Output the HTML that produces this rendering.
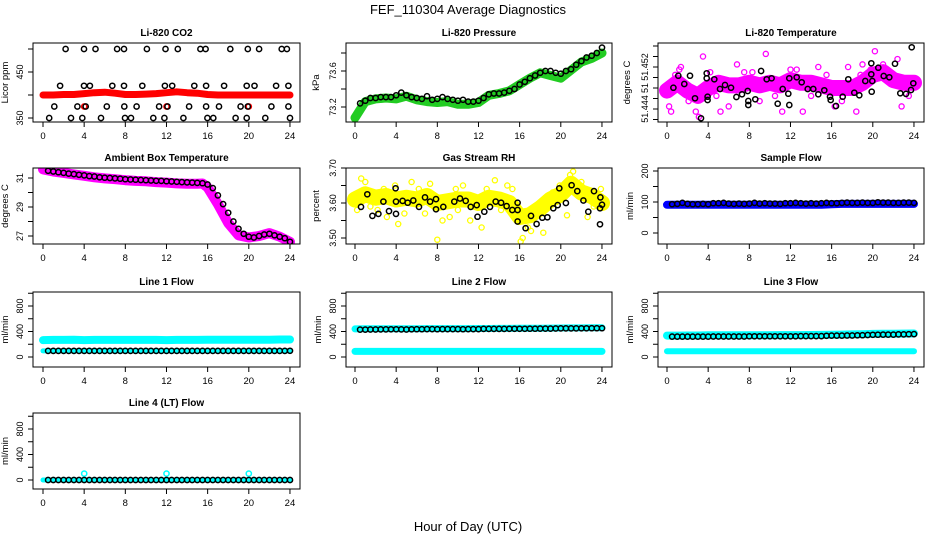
<!DOCTYPE html>
<html><head><meta charset="utf-8"><style>
html,body{margin:0;padding:0;background:#fff}
svg{display:block}
text{font-family:"Liberation Sans",Arial,sans-serif}
</style></head><body>
<svg id="chart" width="936" height="540" viewBox="0 0 936 540" xmlns="http://www.w3.org/2000/svg">
<rect width="936" height="540" fill="#fff"/>
<text x="468" y="14" text-anchor="middle" font-size="13">FEF_110304  Average Diagnostics</text>
<text x="468" y="531" text-anchor="middle" font-size="13">Hour of Day (UTC)</text>
</svg>
<script>
// ---------- data ----------
const xTicks=[0,4,8,12,16,20,24];
const halfHours=[0.5,1,1.5,2,2.5,3,3.5,4,4.5,5,5.5,6,6.5,7,7.5,8,8.5,9,9.5,10,10.5,11,11.5,12,12.5,13,13.5,14,14.5,15,15.5,16,16.5,17,17.5,18,18.5,19,19.5,20,20.5,21,21.5,22,22.5,23,23.5,24];
const hours=[0,1,2,3,4,5,6,7,8,9,10,11,12,13,14,15,16,17,18,19,20,21,22,23,24];

// CO2
const co2BandV=[400,400,401,401,403,405,406,404,401,401,402,403,405,407,405,404,401,400,400,400,400,400,400,400,400];
const co2RedT=[4,12,20];
const co2RedV=[375,375,375];
const co2BlackT=[2.2,3.98,5.1,7.2,7.87,10.1,11.9,13.1,15.3,15.8,18.2,19.9,21.0,23.2,23.7,
1.66,3.98,4.56,6.73,7.87,9.65,11.85,12.56,14.7,15.85,17.6,19.8,20.55,22.65,23.85,
1.1,3.34,4.15,6.2,7.9,9.1,11.28,12.1,14.2,15.85,17.1,19.2,19.9,22.2,23.85,
0.6,2.72,3.82,5.64,7.97,8.55,10.72,11.8,13.64,15.98,16.55,18.72,19.8,21.6,24];
const co2BlackV=[500,500,500,500,500,500,500,500,500,500,500,500,500,500,500,
420,420,420,420,420,420,420,420,420,420,420,420,420,420,420,
375,375,375,375,375,375,375,375,375,375,375,375,375,375,375,
350,350,350,350,350,350,350,350,350,350,350,350,350,350,350];

// Pressure
const presBandV=[73.08,73.26,73.29,73.3,73.29,73.32,73.28,73.26,73.25,73.26,73.23,73.23,73.25,73.33,73.35,73.38,73.45,73.52,73.58,73.55,73.52,73.61,73.7,73.74,73.8];
const presBlackV=[73.24,73.27,73.3,73.3,73.31,73.31,73.31,73.33,73.36,73.33,73.31,73.3,73.29,73.32,73.28,73.29,73.31,73.29,73.28,73.27,73.28,73.26,73.26,73.27,73.3,73.34,73.35,73.35,73.36,73.38,73.4,73.45,73.48,73.52,73.55,73.58,73.6,73.6,73.58,73.57,73.6,73.62,73.67,73.71,73.75,73.77,73.8,73.86];

// Li-820 temperature
const tempBandV=[51.4475,51.449,51.4475,51.4465,51.448,51.449,51.4485,51.4485,51.449,51.4485,51.449,51.4485,51.4495,51.449,51.449,51.4485,51.448,51.448,51.448,51.449,51.4505,51.451,51.4495,51.449,51.449];
const tempPinkT=[0.1,0.2,0.4,1.2,1.35,3.5,4.2,5.2,6.8,9.6,11.2,12.6,13.2,14.7,17.6,18.4,20.2,22.4,22.8,2.8,19,19.8,21.5,3.1,10.5,15.5,8.3,16.3,6,2.1,0.8,4.8,7.5,9,12,14,17,18.8,21,23.5];
const tempPinkV=[51.448,51.4445,51.4435,51.4515,51.452,51.454,51.451,51.4435,51.4525,51.4545,51.4435,51.4515,51.4435,51.452,51.452,51.4435,51.455,51.4535,51.4445,51.4435,51.4525,51.4515,51.4505,51.4425,51.4465,51.4505,51.451,51.4445,51.4445,51.4455,51.4505,51.4465,51.451,51.4455,51.4515,51.4465,51.4455,51.4505,51.4525,51.4465];
const tempBlackT=[0.62,1.1,1.68,2.24,2.72,3.86,3.86,3.95,3.95,4.6,5.15,5.64,6.22,6.74,7.29,7.84,7.9,7.9,8.58,9.14,9.69,10.17,10.76,11.24,11.79,11.89,11.89,12.6,13.09,13.67,14.22,14.7,15.29,15.84,15.91,16.42,17.07,17.62,18.2,18.69,19.27,19.85,19.89,19.85,19.95,20.53,21.06,21.6,22.16,22.67,23.23,23.71,23.94,23.78,3.3];
const tempBlackV=[51.44806,51.45034,51.44876,51.45034,51.44604,51.4508,51.44985,51.44634,51.44571,51.44966,51.44781,51.44857,51.44806,51.44629,51.4468,51.44743,51.44552,51.44476,51.44585,51.45124,51.44966,51.44985,51.44501,51.44781,51.44692,51.44476,51.44985,51.45003,51.44908,51.44781,51.44781,51.4468,51.44756,51.44634,51.44571,51.44457,51.44634,51.44966,51.4471,51.44661,51.44933,51.4527,51.4473,51.45061,51.44933,51.45187,51.45029,51.45003,51.45263,51.44699,51.44687,51.44762,51.4489,51.45575,51.44223];

// Ambient box temperature
const boxBandT=[0,1,2,3,4,5,6,7,8,9,10,11,12,13,14,15,15.5,16,17,18,19,20,21,22,23,24];
const boxBandV=[31.6,31.45,31.35,31.25,31.15,31.05,30.97,30.92,30.85,30.8,30.77,30.72,30.68,30.63,30.6,30.6,30.62,30.35,29.2,27.9,27.05,26.9,27.0,27.2,26.95,26.6];
const boxBlackV=[31.5,31.45,31.4,31.35,31.3,31.27,31.22,31.18,31.13,31.1,31.05,31.02,31.0,30.97,30.95,30.92,30.9,30.88,30.86,30.85,30.83,30.81,30.8,30.78,30.76,30.74,30.72,30.7,30.68,30.66,30.64,30.55,30.3,29.8,29.2,28.6,28.0,27.5,27.15,26.95,26.9,27.0,27.1,27.15,27.05,26.95,26.85,26.6];

// Gas stream RH
const rhBandV=[3.61,3.625,3.615,3.62,3.61,3.615,3.61,3.62,3.6,3.605,3.61,3.61,3.6,3.615,3.61,3.6,3.56,3.565,3.585,3.61,3.625,3.655,3.63,3.62,3.6];
const rhYellowT=[0.6,1,4.2,3.9,8,8.5,9.2,11.2,12.3,13.6,5.5,7.3,16.1,16.3,17.1,18.3,20.6,21.2,20.9,23.9,2.2,10.5,14.8,19.9,6.8,9.8,3.1,22.6,0.2,1.5,2.8,4.8,6.2,10,12.8,14.2,15.3,16.8,17.8,19.2,22,23.2];
const rhYellowV=[3.67,3.66,3.54,3.65,3.495,3.55,3.56,3.55,3.53,3.665,3.66,3.655,3.49,3.5,3.52,3.515,3.565,3.69,3.68,3.64,3.58,3.65,3.65,3.65,3.57,3.64,3.56,3.56,3.58,3.59,3.64,3.57,3.64,3.58,3.64,3.58,3.64,3.53,3.57,3.63,3.66,3.59];
const rhBlackT=[0.58,1.2,1.69,2.27,2.76,3.3,3.98,3.95,3.98,4.63,5.12,5.67,6.22,6.8,7.3,7.87,7.87,8.58,9.65,10.2,10.76,11.24,11.83,11.9,12.57,13.12,13.67,14.2,14.73,15.29,15.8,15.8,15.8,16.58,17.1,17.65,18.2,18.7,19.27,19.7,19.85,20.5,21.05,21.6,22.2,22.67,23.23,23.81,23.85,23.81,24];
const rhBlackV=[3.589,3.625,3.563,3.569,3.604,3.577,3.569,3.642,3.604,3.606,3.601,3.607,3.589,3.616,3.604,3.611,3.582,3.589,3.604,3.613,3.606,3.589,3.594,3.561,3.575,3.589,3.604,3.601,3.591,3.58,3.58,3.601,3.547,3.528,3.563,3.54,3.558,3.559,3.585,3.594,3.642,3.6,3.651,3.634,3.607,3.575,3.634,3.585,3.616,3.539,3.595];

// Sample flow
const sampleBandV=[91,91,91,91,91,91,91,91,91,91,91,91,91,91,91,91,93,94,94,94,94,94,94,94,94];
const sampleBlackV=[93,94,97,94,93,93,94,93,96,96,97,95,94,95,94,95,97,95,96,95,95,94,96,96,97,96,95,96,95,96,97,96,96,97,98,97,97,98,97,97,99,98,98,97,97,98,98,97];

// Line flows
const line1UpperV=[265,268,268,270,265,268,268,268,268,268,268,268,265,268,268,268,270,270,270,272,270,272,272,275,275];
const line1LowerV=[95,95,95,95,95,95,95,95,95,95,95,95,95,95,95,95,95,95,95,95,95,95,95,95,95];
const line1BlackV=[95,95,95,95,95,95,95,95,95,95,95,95,95,95,95,95,95,95,95,95,95,95,95,95,95,95,95,95,95,95,95,95,95,95,95,95,95,95,95,95,95,95,95,95,95,95,95,97];
const line2UpperV=[440,442,442,443,444,444,444,445,445,445,446,446,447,447,448,448,450,452,452,453,455,456,457,458,458];
const line2LowerV=[88,88,88,88,88,88,88,88,88,88,88,88,88,88,88,88,88,88,88,88,88,88,88,88,88];
const line2BlackV=[430,430,432,432,433,433,435,435,433,432,435,436,436,437,437,436,438,438,437,437,436,437,438,438,440,440,440,441,441,442,442,443,443,444,444,445,446,446,447,448,448,449,449,450,450,451,452,452];
const line3UpperV=[335,336,338,338,340,340,340,341,341,342,342,343,343,344,345,346,348,352,355,358,362,364,366,367,368];
const line3LowerV=[90,90,90,90,90,90,90,90,90,90,90,90,90,90,90,90,90,90,90,90,90,90,90,90,90];
const line3BlackV=[320,320,320,320,320,320,320,320,322,322,322,322,322,322,322,325,325,325,325,325,325,325,325,325,325,328,328,328,328,328,332,335,335,335,338,338,340,342,345,348,350,352,352,352,355,355,358,360];
const line4CyanV=[0,0,0,0,0,0,0,0,0,0,0,0,0,0,0,0,0,0,0,0,0,0,0,0,0];
const line4SpikeT=[4,12,20];
const line4SpikeV=[100,100,100];
const line4BlackV=[0,0,0,0,0,0,0,0,0,0,0,0,0,0,0,0,0,0,0,0,0,0,0,0,0,0,0,0,0,0,0,0,0,0,0,0,0,0,0,0,0,0,0,0,0,0,0,0];

// ---------- drawing ----------
const NS='http://www.w3.org/2000/svg';
const svg=document.getElementById('chart');
function mk(tag,attrs,parent){const e=document.createElementNS(NS,tag);for(const k in attrs)e.setAttribute(k,attrs[k]);(parent||svg).appendChild(e);return e;}

function makePanel(p){
  const g=mk('g',{});
  
  
  const xs=t=>p.x0+t*10.29;
  const ys=v=>p.ya+(v-p.va)*(p.yb-p.ya)/(p.vb-p.va);
  p.xs=xs;p.ys=ys;p.g=g;
  const ti=mk('text',{x:(p.bx0+p.bx1)/2,y:p.by0-7,'text-anchor':'middle','font-size':'10','font-weight':'bold'},g);
  ti.textContent=p.title;
  
  
  const xa=mk('g',{},g);
  
  
  mk('line',{x1:xs(xTicks[0]),x2:xs(xTicks[xTicks.length-1]),y1:p.by1,y2:p.by1,stroke:'#000','stroke-width':1},xa);
  xTicks.forEach(t=>{
    mk('line',{x1:xs(t),x2:xs(t),y1:p.by1,y2:p.by1+5,stroke:'#000','stroke-width':1},xa);
    const tx=mk('text',{x:xs(t),y:p.by1+17,'text-anchor':'middle','font-size':'9.5'},xa);
    tx.textContent=t;
    
    
  });
  const ya=mk('g',{},g);
  
  
  p.yticks.forEach((v,i)=>{
    const y=ys(v);
    mk('line',{x1:p.bx0-5,x2:p.bx0,y1:y,y2:y,stroke:'#000','stroke-width':1},ya);
    if(p.ylabels[i]!==''){
      const tx=mk('text',{x:p.bx0-10,y:y,'text-anchor':'middle','font-size':'9',transform:`rotate(-90 ${p.bx0-10} ${y})`},ya);
      tx.textContent=p.ylabels[i];
      
      
    }
  });
  const yt=mk('text',{x:p.bx0-p.ytOff,y:(p.by0+p.by1)/2,'text-anchor':'middle','font-size':'9.5',transform:`rotate(-90 ${p.bx0-p.ytOff} ${(p.by0+p.by1)/2})`},g);
  yt.textContent=p.ylab;
  
  
  const cid='clip'+p.name;
  const cp=mk('clipPath',{id:cid},g);
  mk('rect',{x:p.bx0,y:p.by0,width:p.bx1-p.bx0,height:p.by1-p.by0},cp);
  p.plot=mk('g',{'clip-path':`url(#${cid})`},g);
  
  
  const bx=mk('rect',{x:p.bx0,y:p.by0,width:p.bx1-p.bx0,height:p.by1-p.by0,fill:'none',stroke:'#000','stroke-width':1},g);
  
  
  return p;
}
function band(p,T,V,color,w,name){
  let d='';
  T.forEach((t,i)=>{d+=(i?'L':'M')+p.xs(t).toFixed(1)+' '+p.ys(V[i]).toFixed(1);});
  const path=mk('path',{d:d,fill:'none',stroke:color,'stroke-width':w,'stroke-linejoin':'round','stroke-linecap':'round'},p.plot);
  
  
}
function pts(p,T,V,color,sw,name){
  const g=mk('g',{},p.plot);
  
  
  T.forEach((t,i)=>{
    const c=mk('circle',{cx:p.xs(t).toFixed(1),cy:p.ys(V[i]).toFixed(1),r:2.6,fill:'none',stroke:color,'stroke-width':sw},g);
    
    
  });
}

const C1={bx0:33,bx1:300,x0:43}, C2={bx0:346,bx1:612,x0:355}, C3={bx0:658,bx1:924,x0:667};
const R1={by0:43,by1:122},R2={by0:168,by1:244},R3={by0:292,by1:367},R4={by0:413,by1:489};

const pCO2=makePanel(Object.assign({name:'co2-panel',title:'Li-820 CO2',ylab:'Licor ppm',ytOff:25,va:350,ya:118,vb:450,yb:72,yticks:[350,400,450,500],ylabels:['350','','450','']},C1,R1));
band(pCO2,hours,co2BandV,'#ff0000',7,'co2-red-band');
pts(pCO2,co2RedT,co2RedV,'#ff0000',1.5,'co2-red-points');
pts(pCO2,co2BlackT,co2BlackV,'#000',1.5,'co2-black-points');

const pP=makePanel(Object.assign({name:'pressure-panel',title:'Li-820 Pressure',ylab:'kPa',ytOff:27,va:73.2,ya:107,vb:73.6,yb:71,yticks:[73.2,73.4,73.6,73.8],ylabels:['73.2','','73.6','']},C2,R1));
band(pP,hours,presBandV,'#22cc22',9,'pressure-green-band');
pts(pP,halfHours,presBlackV,'#000',1.5,'pressure-black-points');

const pT=makePanel(Object.assign({name:'li820-temperature-panel',title:'Li-820 Temperature',ylab:'degrees C',ytOff:28,va:51.448,ya:88,vb:51.452,yb:67,yticks:[51.442,51.444,51.446,51.448,51.450,51.452,51.454,51.456],ylabels:['','51.444','','51','','51.452','','']},C3,R1));
band(pT,hours,tempBandV,'#ff00ff',16,'temperature-magenta-band');
pts(pT,tempPinkT,tempPinkV,'#ff00ff',1.3,'temperature-magenta-points');
pts(pT,tempBlackT,tempBlackV,'#000',1.5,'temperature-black-points');

const pB=makePanel(Object.assign({name:'box-temperature-panel',title:'Ambient Box Temperature',ylab:'degrees C',ytOff:25,va:27,ya:236,vb:31,yb:178,yticks:[27,28,29,30,31],ylabels:['27','','29','','31']},C1,R2));
band(pB,boxBandT,boxBandV,'#ff00ff',10,'box-temp-magenta-band');
pts(pB,halfHours,boxBlackV,'#000',1.5,'box-temp-black-points');

const pR=makePanel(Object.assign({name:'rh-panel',title:'Gas Stream RH',ylab:'percent',ytOff:27,va:3.6,ya:203,vb:3.7,yb:168,yticks:[3.5,3.55,3.6,3.65,3.7],ylabels:['3.50','','3.60','','3.70']},C2,R2));
band(pR,hours,rhBandV,'#ffff00',16,'rh-yellow-band');
pts(pR,rhYellowT,rhYellowV,'#ffff00',1.3,'rh-yellow-points');
pts(pR,rhBlackT,rhBlackV,'#000',1.5,'rh-black-points');

const pS=makePanel(Object.assign({name:'sample-flow-panel',title:'Sample Flow',ylab:'ml/min',ytOff:25,va:0,ya:233,vb:100,yb:202,yticks:[0,50,100,150,200],ylabels:['0','','100','','200']},C3,R2));
band(pS,hours,sampleBandV,'#0000ff',8,'sample-blue-band');
pts(pS,halfHours,sampleBlackV,'#000',1.5,'sample-black-points');

const flowTicks=[0,200,400,600,800,1000], flowLabels=['0','','400','','800',''];
const pL1=makePanel(Object.assign({name:'line1-flow-panel',title:'Line 1 Flow',ylab:'ml/min',ytOff:25,va:0,ya:357,vb:400,yb:331.5,yticks:flowTicks,ylabels:flowLabels},C1,R3));
band(pL1,hours,line1UpperV,'#00ffff',8,'line1-upper-cyan-band');
band(pL1,hours,line1LowerV,'#00ffff',5,'line1-lower-cyan-band');
pts(pL1,halfHours,line1BlackV,'#000',1.5,'line1-black-points');

const pL2=makePanel(Object.assign({name:'line2-flow-panel',title:'Line 2 Flow',ylab:'ml/min',ytOff:25,va:0,ya:357,vb:400,yb:331.5,yticks:flowTicks,ylabels:flowLabels},C2,R3));
band(pL2,hours,line2UpperV,'#00ffff',7,'line2-upper-cyan-band');
band(pL2,hours,line2LowerV,'#00ffff',7,'line2-lower-cyan-band');
pts(pL2,halfHours,line2BlackV,'#000',1.5,'line2-black-points');

const pL3=makePanel(Object.assign({name:'line3-flow-panel',title:'Line 3 Flow',ylab:'ml/min',ytOff:25,va:0,ya:357,vb:400,yb:331.5,yticks:flowTicks,ylabels:flowLabels},C3,R3));
band(pL3,hours,line3UpperV,'#00ffff',8,'line3-upper-cyan-band');
band(pL3,hours,line3LowerV,'#00ffff',6,'line3-lower-cyan-band');
pts(pL3,halfHours,line3BlackV,'#000',1.5,'line3-black-points');

const pL4=makePanel(Object.assign({name:'line4-flow-panel',title:'Line 4 (LT) Flow',ylab:'ml/min',ytOff:25,va:0,ya:480,vb:400,yb:454.5,yticks:flowTicks,ylabels:flowLabels},C1,R4));
band(pL4,hours,line4CyanV,'#00ffff',5,'line4-cyan-band');
pts(pL4,line4SpikeT,line4SpikeV,'#00ffff',1.5,'line4-cyan-spikes');
pts(pL4,halfHours,line4BlackV,'#000',1.5,'line4-black-points');
</script>
</body></html>
